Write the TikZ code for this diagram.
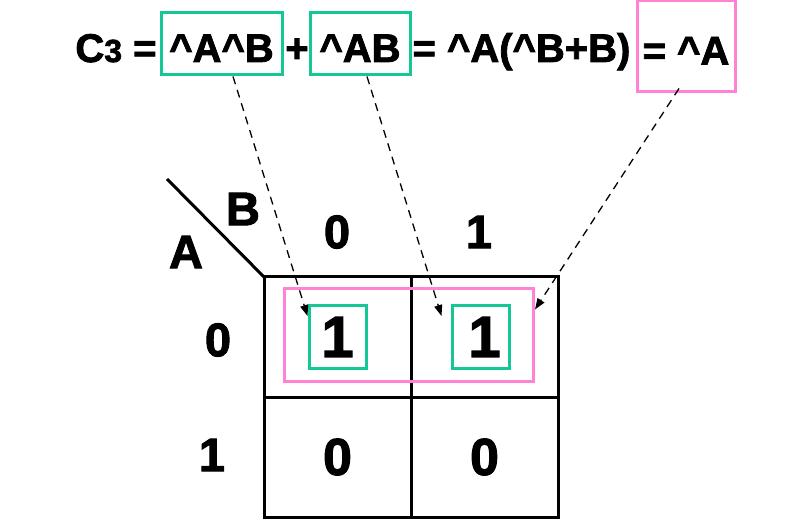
\documentclass[tikz,border=0pt]{standalone}
\usepackage{fontspec}
\setmainfont{Liberation Sans}
\newfontfamily\heavy{Liberation Sans Bold}[FakeBold=2]
\usetikzlibrary{arrows.meta}
\usetikzlibrary{positioning}
\definecolor{kgreen}{RGB}{20,200,150}
\definecolor{kpink}{RGB}{255,130,215}
\newcommand{\nt}{\textasciicircum}

\begin{document}
\begin{tikzpicture}[
    x=1pt, y=-1pt,
    node distance=0pt,
    eq/.style={inner sep=0pt, font=\fontsize{40}{40}\selectfont\heavy, text height=36pt, text depth=0pt},
    gbox/.style={draw=kgreen, line width=3pt, inner sep=0pt},
    pbox/.style={draw=kpink, line width=3pt, inner sep=0pt},
    cell/.style={draw, line width=3pt, minimum width=147pt, minimum height=120pt, outer sep=0pt, inner sep=0pt},
    lbl/.style={inner sep=0pt, font=\fontsize{47}{47}\selectfont\heavy},
    link/.style={dash pattern=on 8pt off 6pt, line width=1.3pt, -{Triangle[length=11pt,width=8pt]}},
    ]
    \useasboundingbox (0,0) rectangle (792,526);
    % the equation
    \node[eq] (c3) at (116,44) {C{\fontsize{32}{32}\selectfont 3} =};
    \node[eq, gbox, minimum width=121pt, minimum height=62pt] (t1) at (221.5,44) {\nt A\nt B};
    \node[eq] (plus) at (297,44) {+};
    \node[eq, gbox, minimum width=100pt, minimum height=62pt] (t2) at (360,44) {\nt AB};
    \node[eq] (mid) at (521.5,44) {= \nt A(\nt B+B)};
    \node[eq, pbox, minimum width=98pt, minimum height=91pt] (t3) at (686,46.5) {= \nt A};
    % the map
    \node[cell, font=\fontsize{58}{58}\selectfont\heavy] (c00) at (337.5,337) {1};
    \node[cell, font=\fontsize{58}{58}\selectfont\heavy, right=of c00] (c01) {1};
    \node[cell, font=\fontsize{52}{52}\selectfont\heavy, below=of c00] (c10) {0};
    \node[cell, font=\fontsize{52}{52}\selectfont\heavy, right=of c10] (c11) {0};
    \coordinate (corner) at (167,179);
    \draw[line width=3pt] (corner) -- (c00.north west);
    \node[lbl] (hb) at (243,209) {B};
    \node[lbl] (ha) at (186,252) {A};
    \node[lbl] (b0) at (337,232) {0};
    \node[lbl] (b1) at (479,232) {1};
    \node[lbl] (a0) at (218,340) {0};
    \node[lbl] (a1) at (212,455) {1};
    % groups
    \node[gbox, minimum width=57pt, minimum height=63pt] (g1) at (c00) {};
    \node[gbox, minimum width=57pt, minimum height=63pt] (g2) at ([xshift=-4pt]c01.center) {};
    \node[pbox, minimum width=249pt, minimum height=92pt] (p) at ([xshift=-2pt,yshift=2pt]c00.east) {};
    % links
    \draw[link] ([xshift=11.5pt]t1.south) -- ([yshift=-12pt]g1.north west);
    \draw[link] ([xshift=7pt]t2.south) -- ([xshift=-9pt,yshift=-12pt]g2.north west);
    \draw[link] ([xshift=-7pt,yshift=5pt]t3.south) -- ([yshift=-22pt]p.north east);
\end{tikzpicture}
\end{document}
